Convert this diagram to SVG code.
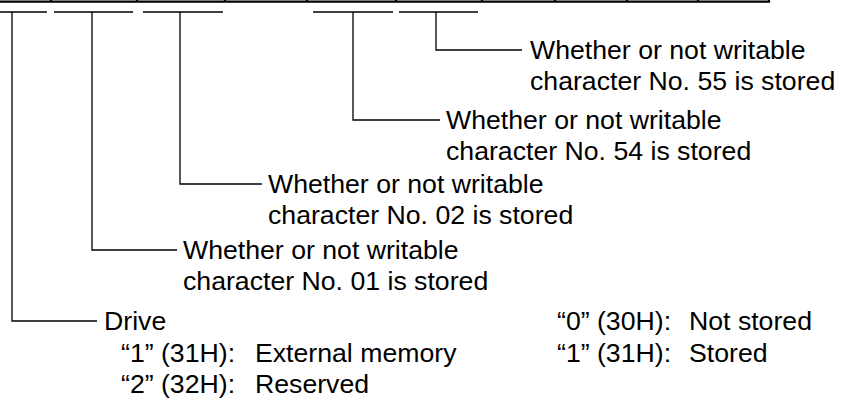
<svg xmlns="http://www.w3.org/2000/svg" width="849" height="401" viewBox="0 0 849 401">
<style>
.t{font-family:"Liberation Sans",Arial,sans-serif;font-size:26.67px;fill:#000}
.c{stroke:#000;stroke-width:1.3;fill:none}
.b{stroke:#000;stroke-width:2.2;fill:none}
</style>
<rect width="849" height="401" fill="#fff"/>
<g id="table">
<path class="b" d="M0 1.6H770M51 0V2.7M137 0V2.7M225 0V2.7M307 0V2.7M396 0V2.7M482 0V2.7M555 0V2.7M627 0V2.7M698 0V2.7M769 0V2.7"/>
</g>
<g id="connectors">
<path class="c" d="M0 12H47M54 12H133M143 12H223M313 12H393M399 12H478"/>
<path class="c" d="M12 12V321H97"/>
<path class="c" d="M92 12V250H177"/>
<path class="c" d="M180 12V184H262"/>
<path class="c" d="M353 12V120H440"/>
<path class="c" d="M436 12V50H522"/>
</g>
<g id="n55"><text class="t" x="530" y="59">Whether or not writable</text><text class="t" x="530" y="90">character No. 55 is stored</text></g>
<g id="n54"><text class="t" x="446" y="129">Whether or not writable</text><text class="t" x="446" y="160">character No. 54 is stored</text></g>
<g id="n02"><text class="t" x="268" y="193">Whether or not writable</text><text class="t" x="268" y="224">character No. 02 is stored</text></g>
<g id="n01"><text class="t" x="183" y="259">Whether or not writable</text><text class="t" x="183" y="290">character No. 01 is stored</text></g>
<g id="drive"><text class="t" x="104" y="330">Drive</text><text class="t" x="121" y="362">“1” (31H):</text><text class="t" x="255" y="362">External memory</text><text class="t" x="121" y="393">“2” (32H):</text><text class="t" x="255" y="393">Reserved</text></g>
<g id="legend"><text class="t" x="557" y="330">“0” (30H):</text><text class="t" x="689" y="330">Not stored</text><text class="t" x="557" y="362">“1” (31H):</text><text class="t" x="689" y="362">Stored</text></g>
</svg>
